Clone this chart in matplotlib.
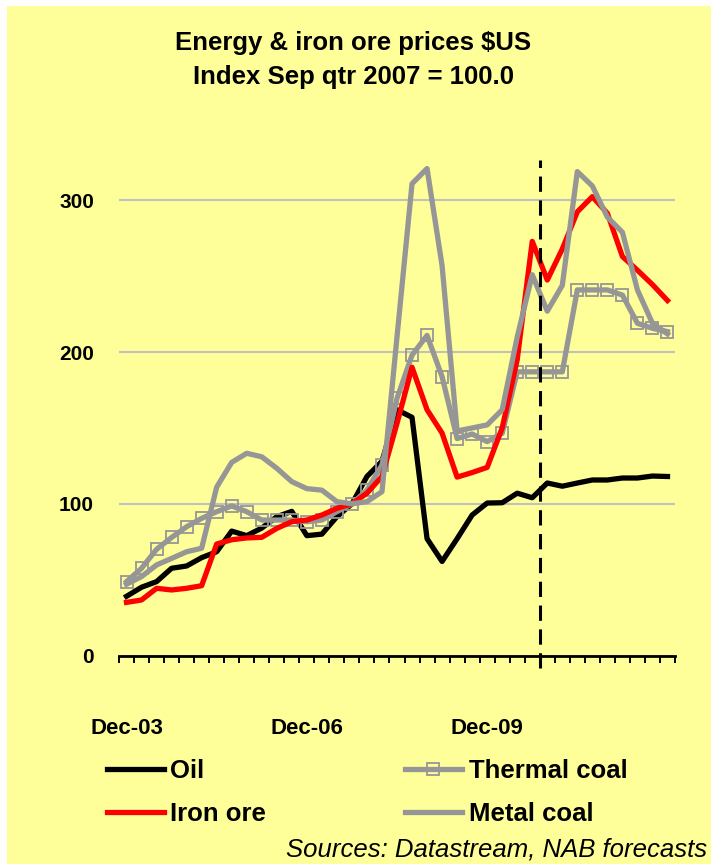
import matplotlib.pyplot as plt
import matplotlib.transforms as mtransforms
from matplotlib.patches import Rectangle

# quarterly index, Sep qtr 2007 = 100, Dec-03 .. Dec-12
quarters = list(range(37))
oil = [39, 45, 48.7, 57.5, 59, 64.5, 68.4, 82, 79, 84, 91.5, 95, 79, 80, 91.5, 100,
       118, 128, 162, 157, 77, 62, 77, 92.6, 100.5, 100.7, 107, 104, 113.7, 111.6,
       113.7, 115.7, 115.7, 117, 117, 118.3, 118]
thermal_coal = [48.7, 57.5, 70, 77.8, 84.9, 90.4, 94.8, 98.6, 94.8, 89.3, 89.3, 89.3,
                88.2, 89.3, 94.8, 100, 109, 125.6, 169.5, 198, 211, 183.8, 143, 146,
                141, 146.5, 187, 187, 187, 187, 241, 241, 241, 237.6, 219, 215.7, 213.5]
iron_ore = [35, 36.6, 44.3, 43.2, 44.3, 46, 73.5, 76.3, 77.5, 77.9, 83.8, 88.2, 89.3,
            92.6, 97, 100, 107, 118, 153, 190, 162, 146.6, 117.6, 120.6, 124, 150, 195,
            273, 247.5, 268, 292.5, 302.5, 291.5, 263, 254, 244.5, 234]
metal_coal = [47, 52, 59.7, 64, 68.4, 70.7, 111, 127.3, 133.3, 131, 123.4, 114.6, 110,
              109, 101.4, 100, 101.4, 108, 210, 311, 321, 257, 148, 150, 152, 162, 210,
              251, 227, 244, 319, 309.5, 289, 279, 241, 219, 212]

tick_labels = {0: 'Dec-03', 12: 'Dec-06', 24: 'Dec-09'}
forecast_start = 27.5

plt.rcParams['font.family'] = ['Liberation Sans', 'DejaVu Sans']

fig = plt.figure(figsize=(7.11, 8.64), dpi=100, facecolor='white')
fig.patches.append(Rectangle((0.01, 0.0), 0.99, 0.993, transform=fig.transFigure,
                             facecolor='#FFFF99', edgecolor='none', zorder=-10))

ax = fig.add_axes([119 / 711, 1 - 655.5 / 864, 556 / 711, 500.6 / 864])
ax.set_facecolor('none')

ax.plot(quarters, oil, color='black', lw=3.8, label='Oil', zorder=3)
ax.plot(quarters, thermal_coal, color='#969696', lw=3.8, marker='s', markersize=9,
        markerfacecolor='none', markeredgecolor='#969696', markeredgewidth=1.3,
        label='Thermal coal', zorder=4)
ax.plot(quarters, iron_ore, color='#FF0000', lw=3.8, label='Iron ore', zorder=5)
ax.plot(quarters, metal_coal, color='#969696', lw=3.8, label='Metal coal', zorder=6)

ax.axvline(forecast_start, ymin=-0.025, ymax=0.99, color='black', lw=2.2,
           dashes=(5, 2.8), clip_on=False, zorder=7)

ax.set_xlim(-0.5, 36.5)
ax.set_ylim(0, 330)
ax.set_yticks([0, 100, 200, 300])
ax.set_yticklabels(['0', '100', '200', '300'], fontsize=15, fontweight='bold')
ax.tick_params(axis='y', length=0, pad=18)
ax.set_xticks([q - 0.5 for q in quarters] + [36.5])
ax.set_xticklabels([])
ax.tick_params(axis='x', direction='out', length=5, width=1.4, color='black')
ax.yaxis.grid(True, color='#C0C0C0', lw=1.5)
ax.set_axisbelow(True)
for side in ['top', 'right', 'left']:
    ax.spines[side].set_visible(False)
ax.spines['bottom'].set_linewidth(2)
ax.spines['bottom'].set_zorder(8)

trans = mtransforms.blended_transform_factory(ax.transData, ax.transAxes)
for q, lab in tick_labels.items():
    ax.text(q, -0.145, lab, transform=trans, ha='center', va='center',
            fontsize=16, fontweight='bold')

fig.text(0.497, 1 - 43 / 864, 'Energy & iron ore prices $US', ha='center', va='center',
         fontsize=18.5, fontweight='bold')
fig.text(0.497, 1 - 77 / 864, 'Index Sep qtr 2007 = 100.0', ha='center', va='center',
         fontsize=18.5, fontweight='bold')

h, l = ax.get_legend_handles_labels()
order = [0, 2, 1, 3]
fig.legend([h[i] for i in order], [l[i] for i in order], ncol=2,
           loc='upper left', bbox_to_anchor=(107 / 711, 1 - 759 / 864),
           frameon=False, prop={'size': 18.5, 'weight': 'bold'},
           handlelength=2.2, handletextpad=0.27, columnspacing=5.4,
           labelspacing=0.75, borderpad=0, borderaxespad=0, numpoints=1)

fig.text(707 / 711, 1 - 849 / 864, 'Sources: Datastream, NAB forecasts', ha='right',
         va='center', fontsize=18.5, style='italic')

fig.savefig('out.png', dpi=100, facecolor=fig.get_facecolor())
